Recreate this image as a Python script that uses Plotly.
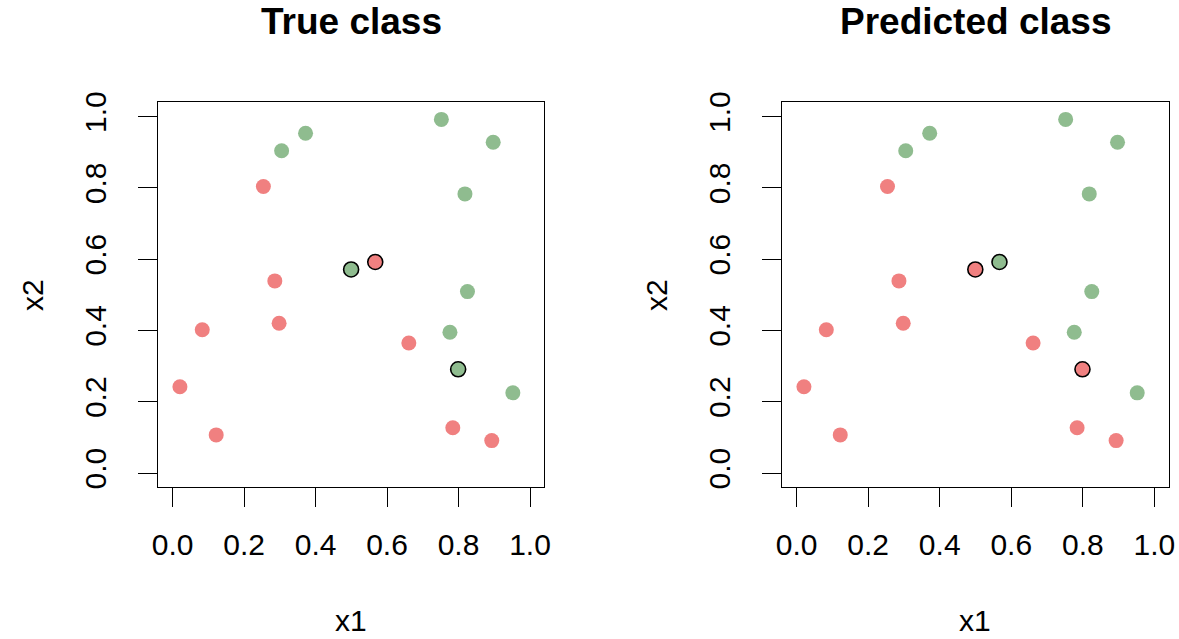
import plotly.graph_objects as go

# Data
x1 = [0.752, 0.897, 0.372, 0.305, 0.818, 0.825, 0.776, 0.952, 0.4995, 0.799,
      0.254, 0.286, 0.298, 0.083, 0.0205, 0.122, 0.661, 0.784, 0.893, 0.567]
x2 = [0.992, 0.928, 0.953, 0.904, 0.783, 0.509, 0.395, 0.225, 0.571, 0.291,
      0.804, 0.539, 0.420, 0.402, 0.242, 0.107, 0.365, 0.127, 0.091, 0.592]
true_class = ["B", "B", "B", "B", "B", "B", "B", "B", "B", "B",
              "A", "A", "A", "A", "A", "A", "A", "A", "A", "A"]
pred_class = ["B", "B", "B", "B", "B", "B", "B", "B", "A", "A",
              "A", "A", "A", "A", "A", "A", "A", "A", "A", "B"]
panel_titles = ["True class", "Predicted class"]
tick_vals = [0.0, 0.2, 0.4, 0.6, 0.8, 1.0]
tick_text = ["0.0", "0.2", "0.4", "0.6", "0.8", "1.0"]

colors = {"A": "#F08080", "B": "#8FBC8F"}
FONT = "Liberation Sans, Arial, Helvetica, sans-serif"

W, H = 1179, 639
xdoms = [[158.3 / W, 544.3 / W], [782.3 / W, 1168.7 / W]]
ydom = [1 - 487.3 / H, 1 - 102.3 / H]

fig = go.Figure()

miscl = [t != p for t, p in zip(true_class, pred_class)]

for i, cls in enumerate([true_class, pred_class]):
    xa = "x" if i == 0 else "x2"
    ya = "y" if i == 0 else "y2"
    idx_n = [k for k in range(len(x1)) if not miscl[k]]
    idx_m = [k for k in range(len(x1)) if miscl[k]]
    fig.add_trace(go.Scatter(
        x=[x1[k] for k in idx_n], y=[x2[k] for k in idx_n], mode="markers",
        marker=dict(size=15, color=[colors[cls[k]] for k in idx_n],
                    line=dict(width=0)),
        xaxis=xa, yaxis=ya, showlegend=False, hoverinfo="skip"))
    fig.add_trace(go.Scatter(
        x=[x1[k] for k in idx_m], y=[x2[k] for k in idx_m], mode="markers",
        marker=dict(size=15, color=[colors[cls[k]] for k in idx_m],
                    line=dict(width=1.6, color="black")),
        xaxis=xa, yaxis=ya, showlegend=False, hoverinfo="skip"))

axis_common = dict(
    range=[-0.04, 1.04], showgrid=False, zeroline=False, automargin=False,
    showline=True, linecolor="black", linewidth=1.3, mirror=True,
    ticks="outside", ticklen=19, tickwidth=1.3, tickcolor="black",
    tickvals=tick_vals, ticktext=tick_text,
    tickfont=dict(family=FONT, size=30, color="black"),
    fixedrange=True,
)

layout = dict(
    template="none",
    width=W, height=H, margin=dict(l=0, r=0, t=0, b=0, pad=0),
    paper_bgcolor="white", plot_bgcolor="white",
    xaxis=dict(domain=xdoms[0], anchor="y", ticklabelstandoff=12, **axis_common),
    yaxis=dict(domain=ydom, anchor="x", tickangle=-90, ticklabelstandoff=20, **axis_common),
    xaxis2=dict(domain=xdoms[1], anchor="y2", ticklabelstandoff=12, **axis_common),
    yaxis2=dict(domain=ydom, anchor="x2", tickangle=-90, ticklabelstandoff=20, **axis_common),
)
fig.update_layout(**layout)

anns = []
for i in range(2):
    cx = (xdoms[i][0] + xdoms[i][1]) / 2
    anns.append(dict(text="<b>" + panel_titles[i] + "</b>", x=cx, y=1 - 21 / H,
                     xref="paper", yref="paper", showarrow=False,
                     xanchor="center", yanchor="middle",
                     font=dict(family=FONT, size=37, color="black")))
    anns.append(dict(text="x1", x=cx, y=1 - 620 / H, xref="paper", yref="paper",
                     showarrow=False, xanchor="center", yanchor="middle", borderpad=0,
                     font=dict(family=FONT, size=30, color="black")))
    anns.append(dict(text="x2", x=(xdoms[i][0] * W - 126) / W, y=(ydom[0] + ydom[1]) / 2,
                     xref="paper", yref="paper", showarrow=False, textangle=-90,
                     xanchor="center", yanchor="middle",
                     font=dict(family=FONT, size=30, color="black")))
fig.update_layout(annotations=anns)

fig.write_html("out.html", config={"displayModeBar": False},
               post_script="document.body.style.margin='0';document.body.style.overflow='hidden';")
